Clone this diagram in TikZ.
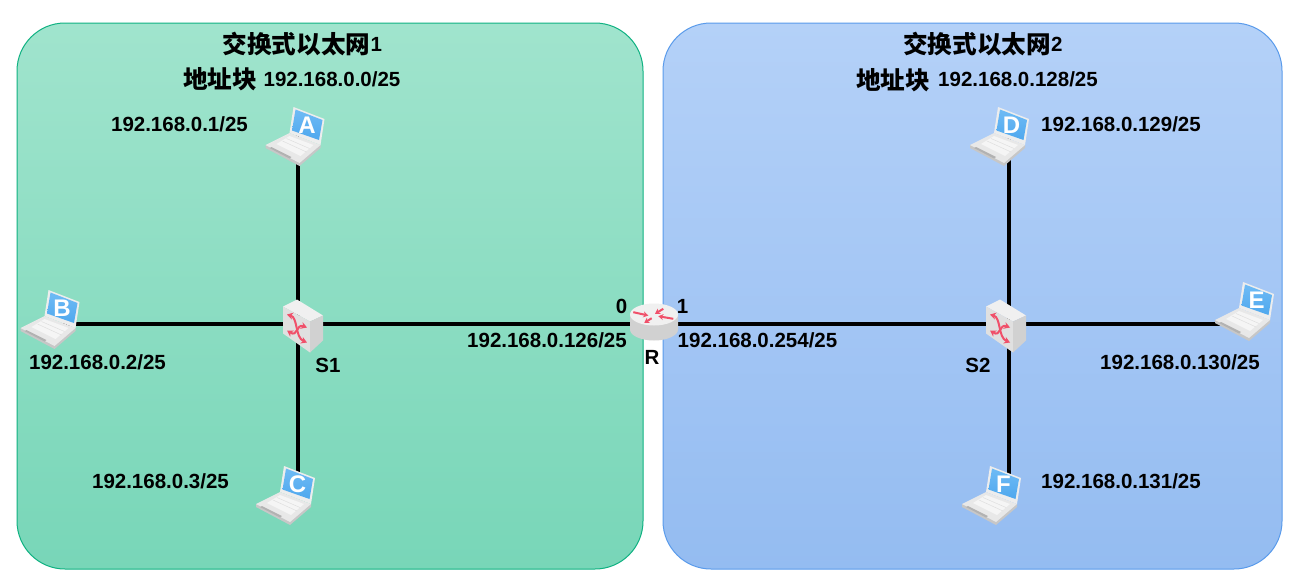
\documentclass[tikz,border=0pt]{standalone}
\usepackage{fontspec}
\setmainfont{Liberation Sans}
\newfontfamily\cjk{Noto Sans CJK SC}
\usetikzlibrary{arrows.meta}
\pgfdeclarelayer{panels}
\pgfdeclarelayer{links}
\pgfsetlayers{panels,links,main}
\definecolor{redarrow}{HTML}{F0506A}
\definecolor{screentop}{HTML}{6FBBF5}
\definecolor{screenbot}{HTML}{4FA8EE}
\tikzset{
  panelbox/.style={rounded corners=48pt,line width=1pt},
  link/.style={line width=4pt,black},
  lab/.style={inner sep=0pt,font=\fontsize{20.5}{24}\selectfont\bfseries,text=black},
  zh/.style={inner sep=0pt,font=\fontsize{24.6}{28}\selectfont\cjk\bfseries,text=black},
  letter/.style={inner sep=0pt,font=\fontsize{24}{28}\selectfont\bfseries,text=white},
  redtip/.style={redarrow,line width=2pt,-{Stealth[length=5pt,width=6pt]}},
  redboth/.style={redarrow,line width=2pt,{Stealth[length=6pt,width=7pt]}-{Stealth[length=6pt,width=7pt]}},
  devnode/.style={inner sep=0pt,minimum size=0pt},
}
\newcommand{\laptopat}[4]{% x,y of laptop centre, letter, name
  \begin{scope}[shift={(#1,#2)}]
    \fill[black!22] (-30,10) -- (-30,13) -- (4,31) -- (25,13) -- (25,10) -- cycle;
    \fill[black!9] (-30,10) -- (4,28) -- (25,10) -- (-6,-2) -- cycle;
    \fill[white!96!black] (-19,9) -- (5,21) -- (18,10) -- (-6,1) -- cycle;
    \draw[black!14,line width=0.4pt] (-13,6) -- (11,17) (-9,3.5) -- (14,13.5);
    \fill[black!30] (-26,13) -- (-6,23.5) -- (-4,22) -- (-24,12) -- cycle;
    \fill[black!7] (-2,-28) -- (29,-16) -- (25,10) -- (-6,-2) -- cycle;
    \shade[top color=screentop,bottom color=screenbot]
      (0,-25.5) -- (27,-15) -- (23.5,5) -- (-3.5,-4.5) -- cycle;
    \node[letter] (#4) at (11.5,-9.5) {#3};
  \end{scope}
}
\newcommand{\switchat}[4]{% x,y of the link crossing, name, x of the body
  \node[devnode] (#3) at (#1,#2) {};
  \begin{scope}[shift={(#4,#2)}]
    \fill[black!6] (-15,-17) -- (-1,-24) -- (25,-8) -- (12,-2) -- cycle;
    \fill[black!12] (-15,-17) -- (12,-2) -- (12,29) -- (-15,10) -- cycle;
    \fill[black!18] (12,-2) -- (25,-8) -- (25,17) -- (12,29) -- cycle;
    \draw[redboth] (-11,-9) .. controls (0,-6) and (-3,14) .. (9,19);
    \draw[redboth] (-11,7) .. controls (0,14) and (-2,0) .. (9,4);
  \end{scope}
}
\newcommand{\routerat}[3]{% x,y,name
  \node[devnode] (#3) at (#1,#2) {};
  \begin{scope}[shift={(#1,#2)}]
    \fill[black!18] (-24,-9) -- (-24,6) arc[start angle=180,end angle=0,x radius=24,y radius=11] -- (24,-9) -- cycle;
    \fill[black!6] (0,-9) ellipse[x radius=24,y radius=11];
    \draw[redtip] (-20.7,-11.3) -- (-5.7,-8);
    \draw[redtip] (9.3,-14.7) -- (1,-9.7);
    \draw[redtip] (-2.3,-5.3) -- (-9.7,-0.7);
    \draw[redtip] (19.3,-4.7) -- (4.3,-7.3);
  \end{scope}
}
\begin{document}
\begin{tikzpicture}[x=1pt,y=-1pt]
  \useasboundingbox (0,0) rectangle (1301,584);
  \begin{pgfonlayer}{panels}
    \fill[white] (0,0) rectangle (1301,584);
    \path[panelbox,draw={rgb,255:red,16;green,178;blue,130},top color={rgb,255:red,160;green,228;blue,205},bottom color={rgb,255:red,120;green,214;blue,184}] (17,23) rectangle (643,569);
    \path[panelbox,draw={rgb,255:red,90;green,155;blue,235},top color={rgb,255:red,180;green,209;blue,248},bottom color={rgb,255:red,148;green,188;blue,241}] (663,23) rectangle (1282,569);
  \end{pgfonlayer}

  \switchat{298}{323.5}{S1}{298}
  \switchat{1008.5}{323.5}{S2}{1001}
  \routerat{654}{323.5}{R}
  \laptopat{295.5}{135}{A}{A}
  \laptopat{50.5}{318}{B}{B}
  \laptopat{286}{494}{C}{C}
  \laptopat{1000}{135}{D}{D}
  \laptopat{1245}{310}{E}{E}
  \laptopat{992}{494}{F}{F}

  \begin{pgfonlayer}{links}
    \draw[link] (S1) -- (S1 |- A);
    \draw[link] (S1) -- (S1 -| B);
    \draw[link] (S1) -- (S1 |- C);
    \draw[link] (S1) -- (R);
    \draw[link] (R) -- (S2);
    \draw[link] (S2) -- (S2 |- D);
    \draw[link] (S2) -- (S2 -| E);
    \draw[link] (S2) -- (S2 |- F);
  \end{pgfonlayer}

  \node[zh] (t1) at (296.5,44) {交换式以太网};
  \node[lab,anchor=west] (t1n) at (t1.east) {1};
  \node[zh] (a1z) at (220,79) {地址块};
  \node[lab] (a1) at (332,79) {192.168.0.0/25};
  \node[zh] (t2) at (977,44) {交换式以太网};
  \node[lab,anchor=west] (t2n) at (t2.east) {2};
  \node[zh] (a2z) at (893,80) {地址块};
  \node[lab] (a2) at (1018,79) {192.168.0.128/25};

  \node[lab] (ipA) at (179.5,124) {192.168.0.1/25};
  \node[lab] (ipB) at (97.5,362) {192.168.0.2/25};
  \node[lab] (ipC) at (160.5,481) {192.168.0.3/25};
  \node[lab] (ipD) at (1121,124) {192.168.0.129/25};
  \node[lab] (ipE) at (1180,362) {192.168.0.130/25};
  \node[lab] (ipF) at (1121,481) {192.168.0.131/25};
  \node[lab] (ipR0) at (547,340) {192.168.0.126/25};
  \node[lab] (ipR1) at (757.5,340) {192.168.0.254/25};
  \node[lab] (if0) at (621.5,306) {0};
  \node[lab] (if1) at (682.5,306) {1};
  \node[lab] (lR) at (652,357) {R};
  \node[lab] (lS1) at (328,365) {S1};
  \node[lab] (lS2) at (978,365) {S2};
\end{tikzpicture}
\end{document}
